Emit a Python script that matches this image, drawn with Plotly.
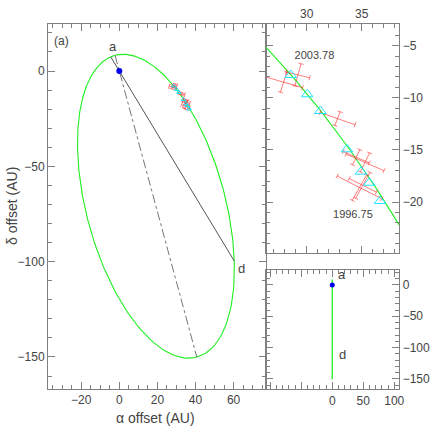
import numpy as np
import plotly.graph_objects as go

# ---------------- data ----------------
# projected orbit (AU, degrees measured from +alpha axis)
semi_major = 82.0
eccentricity = 0.896
peri_angle_deg = 105.17
node_angle_deg = -58.8

# observed relative positions (AU) with separation / position-angle errors (AU)
obs_x = [27.9, 29.2, 32.8, 34.5, 35.3, 34.8, 35.1]
obs_y = [-8.5, -7.8, -12.0, -15.7, -16.2, -18.6, -18.4]
obs_err_sep = [1.8, 1.1, 1.7, 1.3, 1.9, 2.3, 1.4]
obs_err_pa = [1.0, 1.1, 0.7, 0.8, 1.0, 1.4, 1.4]

# orbit-model positions at the observation epochs (AU)
model_x = [28.55, 30.05, 31.24, 33.66, 34.94, 35.69, 36.66]
model_y = [-7.81, -9.66, -11.27, -14.94, -17.09, -18.15, -19.90]

epoch_labels = ["2003.78", "1996.75"]
epoch_label_x = [30.7, 34.2]
epoch_label_y = [-6.05, -21.25]

main_xticks = [-20, 0, 20, 40, 60]
main_yticks = [0, -50, -100, -150]
zoom_xticks = [30, 35]
zoom_yticks = [-5, -10, -15, -20]
side_xticks = [-100, -50, 0, 50, 100]
side_xticktext = ["", "", "0", "50", "100"]
side_yticks = [0, -50, -100, -150]

# ---------------- derived geometry ----------------
p_semi = semi_major * (1 - eccentricity ** 2)
nu = np.linspace(0, 2 * np.pi, 721)
theta_p = np.radians(peri_angle_deg)
r = p_semi / (1 + eccentricity * np.cos(nu))
orb_x = r * np.cos(theta_p + nu)
orb_y = r * np.sin(theta_p + nu)
orb_z = np.zeros_like(orb_x)  # orbit lies in the sky plane


def point_at(theta_deg):
    th = np.radians(theta_deg)
    rr = p_semi / (1 + eccentricity * np.cos(th - theta_p))
    return rr * np.cos(th), rr * np.sin(th)


peri = point_at(peri_angle_deg)
apo = point_at(peri_angle_deg + 180)
node_d = point_at(node_angle_deg)
node_a = point_at(node_angle_deg + 180)


def crosses(xs, ys, es, ts, cap_px, sx, sy):
    X, Y = [], []
    for x, y, e, t in zip(xs, ys, es, ts):
        n = np.hypot(x, y)
        ur = np.array([x, y]) / n
        ut = np.array([-ur[1], ur[0]])
        c = np.array([x, y])
        for u, s, v in ((ur, e, ut), (ut, t, ur)):
            p1, p2 = c - s * u, c + s * u
            X += [p1[0], p2[0], None]
            Y += [p1[1], p2[1], None]
            L = np.hypot(v[0] * sx, v[1] * sy)
            h = v * cap_px / L
            for q in (p1, p2):
                X += [q[0] - h[0], q[0] + h[0], None]
                Y += [q[1] - h[1], q[1] + h[1], None]
    return X, Y


GREEN = "#1fef1f"
RED = "rgba(255,40,40,0.6)"
CYAN = "#22e4ff"
FRAME = "#808080"
TXT = "#444444"
FONT = "Liberation Sans"

fig = go.Figure()

# main panel
fig.add_trace(go.Scatter(x=orb_x, y=orb_y, mode="lines", line=dict(color=GREEN, width=1.1),
                         xaxis="x", yaxis="y", hoverinfo="skip"))
fig.add_trace(go.Scatter(x=[node_a[0], node_d[0]], y=[node_a[1], node_d[1]], mode="lines",
                         line=dict(color="#555555", width=1), xaxis="x", yaxis="y"))
fig.add_trace(go.Scatter(x=[peri[0], apo[0]], y=[peri[1], apo[1]], mode="lines",
                         line=dict(color="#777777", width=1, dash="dashdot"), xaxis="x", yaxis="y"))
cx, cy = crosses(obs_x, obs_y, obs_err_sep, obs_err_pa, 2.6, 1.906, 1.906)
fig.add_trace(go.Scatter(x=cx, y=cy, mode="lines", line=dict(color=RED, width=1), xaxis="x", yaxis="y"))
fig.add_trace(go.Scatter(x=model_x, y=model_y, mode="markers",
                         marker=dict(symbol="triangle-up-open", size=4, color=CYAN, line=dict(width=1)),
                         xaxis="x", yaxis="y"))
fig.add_trace(go.Scatter(x=[0], y=[0], mode="markers", marker=dict(color="#0000ee", size=6),
                         xaxis="x", yaxis="y"))

# zoom panel
fig.add_trace(go.Scatter(x=orb_x, y=orb_y, mode="lines", line=dict(color=GREEN, width=1.1),
                         xaxis="x2", yaxis="y2"))
zx, zy = crosses(obs_x, obs_y, obs_err_sep, obs_err_pa, 2.6, 11.0, 10.42)
fig.add_trace(go.Scatter(x=zx, y=zy, mode="lines", line=dict(color=RED, width=1), xaxis="x2", yaxis="y2"))
fig.add_trace(go.Scatter(x=model_x, y=model_y, mode="markers",
                         marker=dict(symbol="triangle-up-open", size=10, color=CYAN, line=dict(width=1)),
                         xaxis="x2", yaxis="y2"))
fig.add_trace(go.Scatter(x=epoch_label_x, y=epoch_label_y, mode="text", text=epoch_labels,
                         textfont=dict(family=FONT, size=11, color=TXT), xaxis="x2", yaxis="y2"))

# side view panel
fig.add_trace(go.Scatter(x=orb_z, y=orb_y, mode="lines", line=dict(color=GREEN, width=1.3),
                         xaxis="x3", yaxis="y3"))
fig.add_trace(go.Scatter(x=[0], y=[0], mode="markers", marker=dict(color="#0000ee", size=5),
                         xaxis="x3", yaxis="y3"))


def ax(domain, rng, tickvals, minor_dtick, side=None, anchor=None, ticktext=None, standoff=0):
    d = dict(domain=domain, range=rng, tickvals=tickvals, ticks="inside", ticklen=7,
             tickcolor=FRAME, showline=True, linecolor=FRAME, linewidth=1, mirror="allticks",
             showgrid=False, zeroline=False, tickfont=dict(family=FONT, size=12, color=TXT),
             minor=dict(ticks="inside", ticklen=4, dtick=minor_dtick, tickcolor=FRAME, showgrid=False),
             fixedrange=True, ticklabelstandoff=standoff)
    if ticktext is not None:
        d["ticktext"] = ticktext
    if side:
        d["side"] = side
    if anchor:
        d["anchor"] = anchor
    return d


W = 436.0
xm = [48 / W, 265.5 / W]
ym = [1 - 389 / W, 1 - 24 / W]
xr = [265.5 / W, 399.3 / W]
yt = [1 - 253 / W, 1 - 24 / W]
yb = [1 - 389.3 / W, 1 - 269.7 / W]


def label(x, y, text, size, **kw):
    d = dict(x=x, y=y, xref="paper", yref="paper", text=text, showarrow=False,
             xanchor="center", yanchor="middle", font=dict(family=FONT, size=size, color=TXT))
    d.update(kw)
    return d


fig.update_layout(
    width=436, height=436, margin=dict(l=0, r=0, t=0, b=0, autoexpand=False),
    paper_bgcolor="white", plot_bgcolor="white", showlegend=False,
    xaxis=ax(xm, [-37.43, 76.75], main_xticks, 5, anchor="y"),
    yaxis=ax(ym, [-166.8, 24.66], main_yticks, 10, anchor="x"),
    xaxis2=ax(xr, [26.25, 38.42], zoom_xticks, 1, side="top", anchor="y2"),
    yaxis2=ax(yt, [-24.89, -2.92], zoom_yticks, 1, side="right", anchor="x2"),
    xaxis3=ax(xr, [-107.7, 108.1], side_xticks, 10, anchor="y3", ticktext=side_xticktext),
    yaxis3=ax(yb, [-166.6, 24.4], side_yticks, 10, side="right", anchor="x3"),
    annotations=[
        dict(x=node_a[0], y=node_a[1], xref="x", yref="y", text="a", showarrow=False,
             xshift=2, yshift=10, font=dict(family=FONT, size=13, color=TXT)),
        dict(x=node_d[0], y=node_d[1], xref="x", yref="y", text="d", showarrow=False,
             xshift=7, yshift=-8, font=dict(family=FONT, size=13, color=TXT)),
        dict(x=0, y=node_a[1], xref="x3", yref="y3", text="a", showarrow=False,
             xshift=10, yshift=6, font=dict(family=FONT, size=13, color=TXT)),
        dict(x=0, y=node_d[1], xref="x3", yref="y3", text="d", showarrow=False,
             xshift=10, yshift=-7, font=dict(family=FONT, size=13, color=TXT)),
        label(61.7 / W, 1 - 40.7 / W, "(a)", 12),
        label(155 / W, 1 - 418 / W, "α offset (AU)", 14),
        label(12 / W, 1 - 206 / W, "δ offset (AU)", 14, textangle=-90),
    ],
)

fig.write_html("out.html", config={"displayModeBar": False},
               post_script="document.body.style.margin='0';document.body.style.overflow='hidden';")
